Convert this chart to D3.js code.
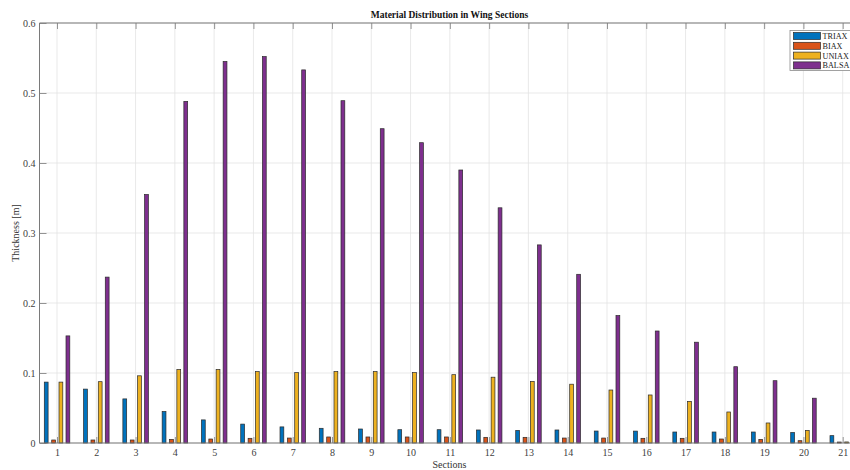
<!DOCTYPE html>
<html>
<head>
<meta charset="utf-8">
<script src="https://cdn.jsdelivr.net/npm/d3@7"></script>
<style>
  body { margin: 0; background: #fff; }
  svg { display: block; font-family: "Liberation Serif", "Times New Roman", serif; }
</style>
</head>
<body>
<div id="chart"></div>
<script>
// data
var sections = d3.range(1, 22)
var materials = ["TRIAX", "BIAX", "UNIAX", "BALSA"]
var colors = ["#0072BD", "#D95319", "#EDB120", "#7E2F8E"]

var triax = [0.087, 0.077, 0.063, 0.045, 0.033, 0.027, 0.023, 0.021, 0.020, 0.019, 0.019,
             0.0186, 0.018, 0.0186, 0.0171, 0.017, 0.0157, 0.0157, 0.0157, 0.015, 0.0105]
var biax = [0.0043, 0.0043, 0.0043, 0.0052, 0.0057, 0.0067, 0.0071, 0.0086, 0.0086, 0.0086, 0.0086,
            0.0081, 0.0081, 0.0071, 0.0071, 0.0067, 0.0067, 0.0057, 0.0052, 0.0033, 0.0014]
var uniax = [0.087, 0.0876, 0.096, 0.105, 0.105, 0.102, 0.1005, 0.102, 0.102, 0.1005, 0.0976,
             0.094, 0.088, 0.084, 0.0757, 0.0686, 0.0595, 0.0443, 0.0286, 0.018, 0.0015]
var balsa = [0.153, 0.237, 0.355, 0.488, 0.545, 0.552, 0.533, 0.489, 0.449, 0.429, 0.390,
             0.336, 0.283, 0.241, 0.182, 0.160, 0.144, 0.109, 0.089, 0.064, 0.001]
var yTicks = [0, 0.1, 0.2, 0.3, 0.4, 0.5, 0.6]

var series = [triax, biax, uniax, balsa]

// -----------------------------------------------------------
var W = 850, H = 470
var pLeft = 39.5, pTop = 23, pBottom = 443

var svg = d3.select("#chart").append("svg")
    .attr("width", W)
    .attr("height", H)

var xScale = d3.scaleLinear()
    .domain([1, 21])
    .range([57, 842.7])
var pRight = xScale(21) + (xScale(1) - pLeft)

var yScale = d3.scaleLinear()
    .domain([0, 0.6])
    .range([pBottom, pTop])

// grid
svg.append("g").selectAll("line")
    .data(sections)
    .enter().append("line")
    .attr("x1", function(d) { return xScale(d) }).attr("x2", function(d) { return xScale(d) })
    .attr("y1", pTop).attr("y2", pBottom)
    .attr("stroke", "#e3e3e3").attr("stroke-width", 0.8)

svg.append("g").selectAll("line")
    .data(yTicks)
    .enter().append("line")
    .attr("x1", pLeft).attr("x2", pRight)
    .attr("y1", function(d) { return yScale(d) }).attr("y2", function(d) { return yScale(d) })
    .attr("stroke", "#e3e3e3").attr("stroke-width", 0.8)

// bars
var offsets = [-10.8, -3.4, 3.9, 10.9]  // px from group centre
var barW = 3.8
series.forEach(function(vals, k) {
    svg.append("g").selectAll("rect")
        .data(vals)
        .enter().append("rect")
        .attr("x", function(d, i) { return xScale(sections[i]) + offsets[k] - barW / 2 })
        .attr("y", function(d) { return yScale(d) })
        .attr("width", barW)
        .attr("height", function(d) { return pBottom - yScale(d) })
        .attr("fill", colors[k])
        .attr("stroke", "#2a2a2a")
        .attr("stroke-width", 0.7)
})

// axes (matlab style, ticks inside, box on)
var axisCol = "#7a7a7a"
var xAxis = d3.axisBottom(xScale).tickValues(sections).tickSizeInner(-6).tickSizeOuter(0).tickPadding(6)
var gx = svg.append("g").attr("transform", "translate(0," + pBottom + ")").call(xAxis)
var xAxisTop = d3.axisTop(xScale).tickValues(sections).tickSizeInner(-6).tickSizeOuter(0).tickFormat("")
var gxt = svg.append("g").attr("transform", "translate(0," + pTop + ")").call(xAxisTop)
var yAxis = d3.axisLeft(yScale).tickValues(yTicks).tickSizeInner(-7).tickSizeOuter(0).tickPadding(4)
    .tickFormat(function(d) { return d === 0 ? "0" : d3.format(".1f")(d) })
var gy = svg.append("g").attr("transform", "translate(" + pLeft + ",0)").call(yAxis)

;[gx, gxt, gy].forEach(function(g) {
    g.select(".domain").remove()
    g.selectAll("line").attr("stroke", axisCol).attr("stroke-width", 0.8)
    g.selectAll("text").attr("fill", "#404040").attr("font-size", "10px")
        .attr("font-family", "Liberation Serif, serif")
})

svg.append("line").attr("x1", pLeft).attr("x2", pRight).attr("y1", pBottom).attr("y2", pBottom)
    .attr("stroke", axisCol).attr("stroke-width", 1)
svg.append("line").attr("x1", pLeft).attr("x2", pRight).attr("y1", pTop).attr("y2", pTop)
    .attr("stroke", axisCol).attr("stroke-width", 1)
svg.append("line").attr("x1", pLeft).attr("x2", pLeft).attr("y1", pTop).attr("y2", pBottom)
    .attr("stroke", axisCol).attr("stroke-width", 1)

// texts
svg.append("text")
    .attr("x", 449.5).attr("y", 18)
    .attr("text-anchor", "middle")
    .attr("font-size", "9.5px").attr("font-weight", "bold")
    .attr("fill", "#111")
    .text("Material Distribution in Wing Sections")

svg.append("text")
    .attr("x", 449.5).attr("y", 467.5)
    .attr("text-anchor", "middle")
    .attr("font-size", "10px")
    .attr("fill", "#333")
    .text("Sections")

svg.append("text")
    .attr("transform", "translate(19," + ((pTop + pBottom) / 2) + ") rotate(-90)")
    .attr("text-anchor", "middle")
    .attr("font-size", "10px")
    .attr("fill", "#333")
    .text("Thickness [m]")

// legend
var lg = svg.append("g").attr("transform", "translate(790,30.5)")
lg.append("rect")
    .attr("x", 0).attr("y", 0).attr("width", 64).attr("height", 40)
    .attr("fill", "#fff").attr("stroke", "#8a8a8a").attr("stroke-width", 0.8)
materials.forEach(function(m, i) {
    lg.append("rect")
        .attr("x", 3.5).attr("y", 2 + i * 9.8)
        .attr("width", 27).attr("height", 7)
        .attr("fill", colors[i]).attr("stroke", "#2a2a2a").attr("stroke-width", 0.7)
    lg.append("text")
        .attr("x", 32.5).attr("y", 5.6 + i * 9.8)
        .attr("dy", "0.35em")
        .attr("font-size", "8.2px")
        .attr("fill", "#222")
        .text(m)
})
</script>
</body>
</html>
